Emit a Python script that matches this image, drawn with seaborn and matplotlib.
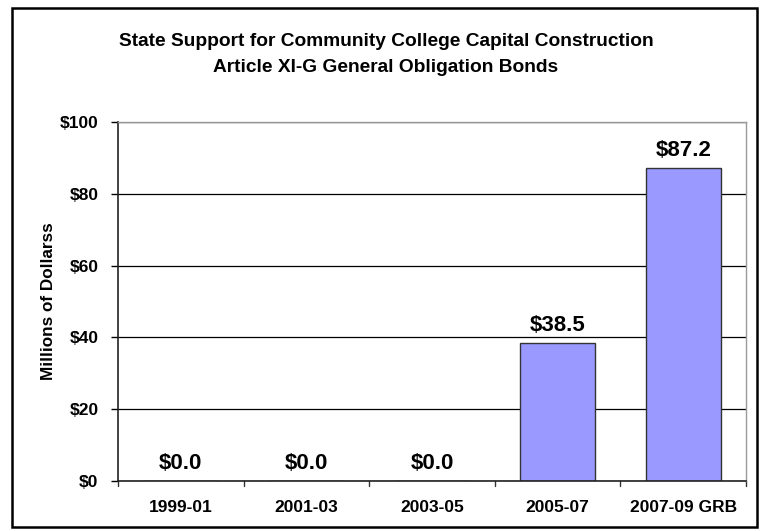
import matplotlib
matplotlib.use("Agg")
import matplotlib.pyplot as plt
import seaborn as sns
import pandas as pd
from matplotlib.patches import Rectangle

categories = ["1999-01", "2001-03", "2003-05", "2005-07", "2007-09 GRB"]
values = [0.0, 0.0, 0.0, 38.5, 87.2]
value_labels = ["$0.0", "$0.0", "$0.0", "$38.5", "$87.2"]
yticks = [0, 20, 40, 60, 80, 100]
ytick_labels = ["$0", "$20", "$40", "$60", "$80", "$100"]

sns.set_theme(style="white")
plt.rcParams["font.family"] = ["Liberation Sans", "DejaVu Sans"]
plt.rcParams["text.color"] = "black"
plt.rcParams["axes.labelcolor"] = "black"
plt.rcParams["xtick.color"] = "black"
plt.rcParams["ytick.color"] = "black"

df = pd.DataFrame({"cat": categories, "val": values})

fig = plt.figure(figsize=(7.61, 5.31), dpi=100)
W, H = 761, 531
ax = fig.add_axes([118 / W, 1 - 481 / H, (746 - 118) / W, (481 - 122) / H])

sns.barplot(data=df, x="cat", y="val", ax=ax, color="#9999FF", saturation=1,
            width=0.6, edgecolor="#333333", linewidth=1)

ax.set_ylim(0, 100)
ax.set_xlim(-0.5, 4.5)
ax.set_yticks(yticks)
ax.set_yticklabels(ytick_labels, fontsize=12.5, fontweight="bold")
ax.set_xticks(range(len(categories)))
ax.set_xticklabels(categories, fontsize=12.5, fontweight="bold")
ax.tick_params(axis="x", length=0, pad=14)
ax.tick_params(axis="y", length=5, width=1, color="black", direction="out", left=True, pad=9)
ax.yaxis.grid(True, color="black", linewidth=0.9)
ax.set_axisbelow(True)
# category boundary ticks on x axis
for b in [x - 0.5 for x in range(len(categories) + 1)]:
    ax.plot([b, b], [0, -1.5], color="#333333", lw=1, clip_on=False)

ax.set_xlabel("")
ax.set_ylabel("Millions of Dollarss", fontsize=12.3, fontweight="bold", labelpad=3)

for s in ["left", "bottom"]:
    ax.spines[s].set_color("#222222")
    ax.spines[s].set_linewidth(1.2)
for s in ["top", "right"]:
    ax.spines[s].set_color("#999999")
    ax.spines[s].set_linewidth(1)

for i, (v, lab) in enumerate(zip(values, value_labels)):
    ax.text(i, v + 2.0, lab, ha="center", va="bottom", fontsize=16, fontweight="bold")

fig.text(386 / W, 1 - 42 / H, "State Support for Community College Capital Construction",
         ha="center", va="center", fontsize=13.8, fontweight="bold")
fig.text(386 / W, 1 - 67 / H, "Article XI-G General Obligation Bonds",
         ha="center", va="center", fontsize=13.8, fontweight="bold")

fig.patches.append(Rectangle((12 / W, 4 / H), (757 - 12) / W, (523 - 4) / H,
                             transform=fig.transFigure, fill=False,
                             edgecolor="black", linewidth=1.8))

fig.savefig("out.png", dpi=100)
